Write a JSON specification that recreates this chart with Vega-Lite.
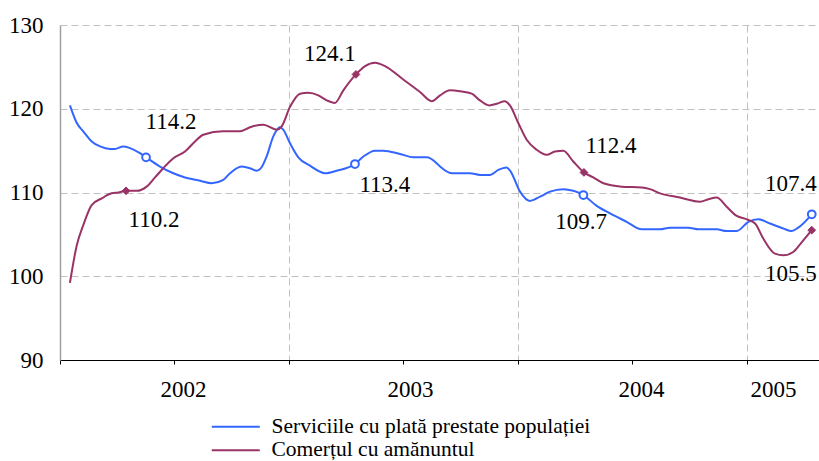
{
  "$schema": "https://vega.github.io/schema/vega-lite/v6.json",
  "width": 759,
  "height": 335,
  "autosize": "none",
  "padding": {"left": 60, "top": 25, "right": 0, "bottom": 101},
  "background": "white",
  "datasets": {
    "lines": [
      {"s": "Serviciile cu plată prestate populației", "m": 0.52, "v": 120.4, "mk": 0},
      {"s": "Serviciile cu plată prestate populației", "m": 0.88, "v": 118.3, "mk": 0},
      {"s": "Serviciile cu plată prestate populației", "m": 1.22, "v": 117.3, "mk": 0},
      {"s": "Serviciile cu plată prestate populației", "m": 1.66, "v": 116.1, "mk": 0},
      {"s": "Serviciile cu plată prestate populației", "m": 2.10, "v": 115.5, "mk": 0},
      {"s": "Serviciile cu plată prestate populației", "m": 2.62, "v": 115.2, "mk": 0},
      {"s": "Serviciile cu plată prestate populației", "m": 2.88, "v": 115.2, "mk": 0},
      {"s": "Serviciile cu plată prestate populației", "m": 3.32, "v": 115.5, "mk": 0},
      {"s": "Serviciile cu plată prestate populației", "m": 3.67, "v": 115.3, "mk": 0},
      {"s": "Serviciile cu plată prestate populației", "m": 4.19, "v": 114.7, "mk": 0},
      {"s": "Serviciile cu plată prestate populației", "m": 4.51, "v": 114.2, "mk": 1},
      {"s": "Serviciile cu plată prestate populației", "m": 5.24, "v": 113.1, "mk": 0},
      {"s": "Serviciile cu plată prestate populației", "m": 5.94, "v": 112.3, "mk": 0},
      {"s": "Serviciile cu plată prestate populației", "m": 6.55, "v": 111.8, "mk": 0},
      {"s": "Serviciile cu plată prestate populației", "m": 7.34, "v": 111.4, "mk": 0},
      {"s": "Serviciile cu plată prestate populației", "m": 7.95, "v": 111.1, "mk": 0},
      {"s": "Serviciile cu plată prestate populației", "m": 8.56, "v": 111.5, "mk": 0},
      {"s": "Serviciile cu plată prestate populației", "m": 8.91, "v": 112.3, "mk": 0},
      {"s": "Serviciile cu plată prestate populației", "m": 9.52, "v": 113.1, "mk": 0},
      {"s": "Serviciile cu plată prestate populației", "m": 9.96, "v": 112.9, "mk": 0},
      {"s": "Serviciile cu plată prestate populației", "m": 10.31, "v": 112.6, "mk": 0},
      {"s": "Serviciile cu plată prestate populației", "m": 10.59, "v": 113.1, "mk": 0},
      {"s": "Serviciile cu plată prestate populației", "m": 10.83, "v": 114.3, "mk": 0},
      {"s": "Serviciile cu plată prestate populației", "m": 11.18, "v": 116.7, "mk": 0},
      {"s": "Serviciile cu plată prestate populației", "m": 11.53, "v": 117.8, "mk": 0},
      {"s": "Serviciile cu plată prestate populației", "m": 11.70, "v": 117.5, "mk": 0},
      {"s": "Serviciile cu plată prestate populației", "m": 12.05, "v": 115.9, "mk": 0},
      {"s": "Serviciile cu plată prestate populației", "m": 12.49, "v": 114.2, "mk": 0},
      {"s": "Serviciile cu plată prestate populației", "m": 13.10, "v": 113.2, "mk": 0},
      {"s": "Serviciile cu plată prestate populației", "m": 13.89, "v": 112.3, "mk": 0},
      {"s": "Serviciile cu plată prestate populației", "m": 14.50, "v": 112.6, "mk": 0},
      {"s": "Serviciile cu plată prestate populației", "m": 15.46, "v": 113.4, "mk": 1},
      {"s": "Serviciile cu plată prestate populației", "m": 15.90, "v": 114.3, "mk": 0},
      {"s": "Serviciile cu plată prestate populației", "m": 16.51, "v": 115.0, "mk": 0},
      {"s": "Serviciile cu plată prestate populației", "m": 16.94, "v": 115.0, "mk": 0},
      {"s": "Serviciile cu plată prestate populației", "m": 17.82, "v": 114.6, "mk": 0},
      {"s": "Serviciile cu plată prestate populației", "m": 18.52, "v": 114.2, "mk": 0},
      {"s": "Serviciile cu plată prestate populației", "m": 19.22, "v": 114.2, "mk": 0},
      {"s": "Serviciile cu plată prestate populației", "m": 19.74, "v": 113.5, "mk": 0},
      {"s": "Serviciile cu plată prestate populației", "m": 19.92, "v": 113.1, "mk": 0},
      {"s": "Serviciile cu plată prestate populației", "m": 20.53, "v": 112.3, "mk": 0},
      {"s": "Serviciile cu plată prestate populației", "m": 21.49, "v": 112.3, "mk": 0},
      {"s": "Serviciile cu plată prestate populației", "m": 22.01, "v": 112.1, "mk": 0},
      {"s": "Serviciile cu plată prestate populației", "m": 22.54, "v": 112.1, "mk": 0},
      {"s": "Serviciile cu plată prestate populației", "m": 22.97, "v": 112.7, "mk": 0},
      {"s": "Serviciile cu plată prestate populației", "m": 23.41, "v": 113.0, "mk": 0},
      {"s": "Serviciile cu plată prestate populației", "m": 23.62, "v": 112.5, "mk": 0},
      {"s": "Serviciile cu plată prestate populației", "m": 24.11, "v": 110.1, "mk": 0},
      {"s": "Serviciile cu plată prestate populației", "m": 24.63, "v": 109.0, "mk": 0},
      {"s": "Serviciile cu plată prestate populației", "m": 25.16, "v": 109.5, "mk": 0},
      {"s": "Serviciile cu plată prestate populației", "m": 25.68, "v": 110.1, "mk": 0},
      {"s": "Serviciile cu plată prestate populației", "m": 26.38, "v": 110.4, "mk": 0},
      {"s": "Serviciile cu plată prestate populației", "m": 26.90, "v": 110.2, "mk": 0},
      {"s": "Serviciile cu plată prestate populației", "m": 27.43, "v": 109.7, "mk": 1},
      {"s": "Serviciile cu plată prestate populației", "m": 28.13, "v": 108.4, "mk": 0},
      {"s": "Serviciile cu plată prestate populației", "m": 28.83, "v": 107.5, "mk": 0},
      {"s": "Serviciile cu plată prestate populației", "m": 29.70, "v": 106.5, "mk": 0},
      {"s": "Serviciile cu plată prestate populației", "m": 30.49, "v": 105.6, "mk": 0},
      {"s": "Serviciile cu plată prestate populației", "m": 31.45, "v": 105.6, "mk": 0},
      {"s": "Serviciile cu plată prestate populației", "m": 31.97, "v": 105.8, "mk": 0},
      {"s": "Serviciile cu plată prestate populației", "m": 32.93, "v": 105.8, "mk": 0},
      {"s": "Serviciile cu plată prestate populației", "m": 33.46, "v": 105.6, "mk": 0},
      {"s": "Serviciile cu plată prestate populației", "m": 34.42, "v": 105.6, "mk": 0},
      {"s": "Serviciile cu plată prestate populației", "m": 34.94, "v": 105.4, "mk": 0},
      {"s": "Serviciile cu plată prestate populației", "m": 35.47, "v": 105.4, "mk": 0},
      {"s": "Serviciile cu plată prestate populației", "m": 36.08, "v": 106.5, "mk": 0},
      {"s": "Serviciile cu plată prestate populației", "m": 36.60, "v": 106.8, "mk": 0},
      {"s": "Serviciile cu plată prestate populației", "m": 37.21, "v": 106.3, "mk": 0},
      {"s": "Serviciile cu plată prestate populației", "m": 37.91, "v": 105.7, "mk": 0},
      {"s": "Serviciile cu plată prestate populației", "m": 38.35, "v": 105.4, "mk": 0},
      {"s": "Serviciile cu plată prestate populației", "m": 38.69, "v": 105.8, "mk": 0},
      {"s": "Serviciile cu plată prestate populației", "m": 39.40, "v": 107.4, "mk": 1},
      {"s": "Comerțul cu amănuntul", "m": 0.52, "v": 99.2, "mk": 0},
      {"s": "Comerțul cu amănuntul", "m": 0.88, "v": 103.7, "mk": 0},
      {"s": "Comerțul cu amănuntul", "m": 1.22, "v": 106.1, "mk": 0},
      {"s": "Comerțul cu amănuntul", "m": 1.66, "v": 108.5, "mk": 0},
      {"s": "Comerțul cu amănuntul", "m": 2.19, "v": 109.3, "mk": 0},
      {"s": "Comerțul cu amănuntul", "m": 2.71, "v": 109.9, "mk": 0},
      {"s": "Comerțul cu amănuntul", "m": 3.06, "v": 110.0, "mk": 0},
      {"s": "Comerțul cu amănuntul", "m": 3.46, "v": 110.2, "mk": 1},
      {"s": "Comerțul cu amănuntul", "m": 4.02, "v": 110.2, "mk": 0},
      {"s": "Comerțul cu amănuntul", "m": 4.54, "v": 110.7, "mk": 0},
      {"s": "Comerțul cu amănuntul", "m": 4.98, "v": 111.8, "mk": 0},
      {"s": "Comerțul cu amănuntul", "m": 5.41, "v": 112.9, "mk": 0},
      {"s": "Comerțul cu amănuntul", "m": 5.94, "v": 114.1, "mk": 0},
      {"s": "Comerțul cu amănuntul", "m": 6.55, "v": 114.9, "mk": 0},
      {"s": "Comerțul cu amănuntul", "m": 7.08, "v": 116.1, "mk": 0},
      {"s": "Comerțul cu amănuntul", "m": 7.51, "v": 116.9, "mk": 0},
      {"s": "Comerțul cu amănuntul", "m": 8.56, "v": 117.3, "mk": 0},
      {"s": "Comerțul cu amănuntul", "m": 9.43, "v": 117.3, "mk": 0},
      {"s": "Comerțul cu amănuntul", "m": 9.96, "v": 117.8, "mk": 0},
      {"s": "Comerțul cu amănuntul", "m": 10.66, "v": 118.1, "mk": 0},
      {"s": "Comerțul cu amănuntul", "m": 11.36, "v": 117.5, "mk": 0},
      {"s": "Comerțul cu amănuntul", "m": 11.62, "v": 117.9, "mk": 0},
      {"s": "Comerțul cu amănuntul", "m": 12.05, "v": 120.2, "mk": 0},
      {"s": "Comerțul cu amănuntul", "m": 12.58, "v": 121.8, "mk": 0},
      {"s": "Comerțul cu amănuntul", "m": 13.01, "v": 121.9, "mk": 0},
      {"s": "Comerțul cu amănuntul", "m": 13.54, "v": 121.6, "mk": 0},
      {"s": "Comerțul cu amănuntul", "m": 13.98, "v": 121.0, "mk": 0},
      {"s": "Comerțul cu amănuntul", "m": 14.41, "v": 120.7, "mk": 0},
      {"s": "Comerțul cu amănuntul", "m": 14.85, "v": 122.2, "mk": 0},
      {"s": "Comerțul cu amănuntul", "m": 15.51, "v": 124.1, "mk": 1},
      {"s": "Comerțul cu amănuntul", "m": 15.99, "v": 125.1, "mk": 0},
      {"s": "Comerțul cu amănuntul", "m": 16.51, "v": 125.5, "mk": 0},
      {"s": "Comerțul cu amănuntul", "m": 17.03, "v": 125.1, "mk": 0},
      {"s": "Comerțul cu amănuntul", "m": 17.99, "v": 123.5, "mk": 0},
      {"s": "Comerțul cu amănuntul", "m": 18.87, "v": 122.0, "mk": 0},
      {"s": "Comerțul cu amănuntul", "m": 19.48, "v": 120.9, "mk": 0},
      {"s": "Comerțul cu amănuntul", "m": 19.92, "v": 121.6, "mk": 0},
      {"s": "Comerțul cu amănuntul", "m": 20.44, "v": 122.2, "mk": 0},
      {"s": "Comerțul cu amănuntul", "m": 20.96, "v": 122.1, "mk": 0},
      {"s": "Comerțul cu amănuntul", "m": 21.58, "v": 121.8, "mk": 0},
      {"s": "Comerțul cu amănuntul", "m": 22.01, "v": 121.0, "mk": 0},
      {"s": "Comerțul cu amănuntul", "m": 22.50, "v": 120.4, "mk": 0},
      {"s": "Comerțul cu amănuntul", "m": 22.89, "v": 120.6, "mk": 0},
      {"s": "Comerțul cu amănuntul", "m": 23.32, "v": 120.9, "mk": 0},
      {"s": "Comerțul cu amănuntul", "m": 23.58, "v": 120.4, "mk": 0},
      {"s": "Comerțul cu amănuntul", "m": 24.02, "v": 118.3, "mk": 0},
      {"s": "Comerțul cu amănuntul", "m": 24.46, "v": 116.3, "mk": 0},
      {"s": "Comerțul cu amănuntul", "m": 24.98, "v": 115.1, "mk": 0},
      {"s": "Comerțul cu amănuntul", "m": 25.51, "v": 114.5, "mk": 0},
      {"s": "Comerțul cu amănuntul", "m": 25.94, "v": 114.9, "mk": 0},
      {"s": "Comerțul cu amănuntul", "m": 26.38, "v": 115.0, "mk": 0},
      {"s": "Comerțul cu amănuntul", "m": 26.90, "v": 113.7, "mk": 0},
      {"s": "Comerțul cu amănuntul", "m": 27.46, "v": 112.4, "mk": 1},
      {"s": "Comerțul cu amănuntul", "m": 27.95, "v": 111.8, "mk": 0},
      {"s": "Comerțul cu amănuntul", "m": 28.48, "v": 111.1, "mk": 0},
      {"s": "Comerțul cu amănuntul", "m": 29.44, "v": 110.7, "mk": 0},
      {"s": "Comerțul cu amănuntul", "m": 30.49, "v": 110.6, "mk": 0},
      {"s": "Comerțul cu amănuntul", "m": 30.92, "v": 110.4, "mk": 0},
      {"s": "Comerțul cu amănuntul", "m": 31.45, "v": 109.9, "mk": 0},
      {"s": "Comerțul cu amănuntul", "m": 32.49, "v": 109.4, "mk": 0},
      {"s": "Comerțul cu amănuntul", "m": 33.54, "v": 108.9, "mk": 0},
      {"s": "Comerțul cu amănuntul", "m": 33.98, "v": 109.2, "mk": 0},
      {"s": "Comerțul cu amănuntul", "m": 34.42, "v": 109.4, "mk": 0},
      {"s": "Comerțul cu amănuntul", "m": 34.94, "v": 108.3, "mk": 0},
      {"s": "Comerțul cu amănuntul", "m": 35.47, "v": 107.2, "mk": 0},
      {"s": "Comerțul cu amănuntul", "m": 35.99, "v": 106.8, "mk": 0},
      {"s": "Comerțul cu amănuntul", "m": 36.43, "v": 106.3, "mk": 0},
      {"s": "Comerțul cu amănuntul", "m": 36.86, "v": 104.5, "mk": 0},
      {"s": "Comerțul cu amănuntul", "m": 37.47, "v": 102.7, "mk": 0},
      {"s": "Comerțul cu amănuntul", "m": 37.91, "v": 102.5, "mk": 0},
      {"s": "Comerțul cu amănuntul", "m": 38.43, "v": 102.9, "mk": 0},
      {"s": "Comerțul cu amănuntul", "m": 38.82, "v": 103.9, "mk": 0},
      {"s": "Comerțul cu amănuntul", "m": 39.40, "v": 105.5, "mk": 1}
    ],
    "labels": [
      {"t": "114.2", "m": 5.82, "v": 118.42},
      {"t": "110.2", "m": 4.93, "v": 106.72},
      {"t": "124.1", "m": 14.15, "v": 126.54},
      {"t": "113.4", "m": 17.03, "v": 110.9},
      {"t": "112.4", "m": 28.88, "v": 115.55},
      {"t": "109.7", "m": 27.31, "v": 106.48},
      {"t": "107.4", "m": 38.31, "v": 111.01},
      {"t": "105.5", "m": 38.31, "v": 100.27}
    ]
  },
  "encoding": {
    "x": {
      "field": "m",
      "type": "quantitative",
      "scale": {"domain": [0, 39.78], "nice": false, "zero": false},
      "axis": {
        "title": null,
        "values": [0, 6, 6.45, 12, 18, 18.35, 24, 30, 30.45, 36, 37.37],
        "labelExpr": "datum.value == 6.45 ? '2002' : datum.value == 18.35 ? '2003' : datum.value == 30.45 ? '2004' : datum.value == 37.37 ? '2005' : ''",
        "labelFont": "Liberation Serif",
        "labelFontSize": 23,
        "labelColor": "#000000",
        "labelPadding": 14,
        "labelOverlap": false,
        "labelFlush": false,
        "labelBound": false,
        "domainColor": "#000000",
        "domainWidth": 1,
        "tickColor": "#000000",
        "tickSize": 4,
        "tickOpacity": {"condition": {"test": "datum.value % 6 == 0", "value": 1}, "value": 0},
        "grid": true,
        "gridColor": "#c0c0c0",
        "gridDash": [7, 4],
        "gridOpacity": {"condition": {"test": "datum.value % 12 == 0 && datum.value > 0", "value": 1}, "value": 0}
      }
    },
    "y": {
      "field": "v",
      "type": "quantitative",
      "scale": {"domain": [90, 130], "nice": false, "zero": false},
      "axis": {
        "title": null,
        "values": [90, 100, 110, 120, 130],
        "labelFont": "Liberation Serif",
        "labelFontSize": 23,
        "labelColor": "#000000",
        "labelPadding": 17,
        "ticks": false,
        "domainColor": "#a0a0a0",
        "domainWidth": 1.5,
        "grid": true,
        "gridColor": "#c0c0c0",
        "gridDash": [7, 4],
        "gridOpacity": {"condition": {"test": "datum.value > 90", "value": 1}, "value": 0}
      }
    }
  },
  "layer": [
    {
      "data": {"name": "lines"},
      "mark": {"type": "line", "strokeWidth": 2, "interpolate": "monotone"},
      "encoding": {
        "color": {
          "field": "s",
          "type": "nominal",
          "sort": null,
          "scale": {
            "domain": ["Serviciile cu plată prestate populației", "Comerțul cu amănuntul"],
            "range": ["#3366FF", "#993366"]
          },
          "legend": {
            "title": null,
            "orient": "none",
            "legendX": 189,
            "legendY": 391,
            "direction": "vertical",
            "padding": 0,
            "symbolType": "M-9.6,0H0",
            "symbolSize": 100,
            "symbolStrokeWidth": 2,
            "labelOffset": 1,
            "labelFont": "Liberation Serif",
            "labelFontSize": 21.5,
            "labelColor": "#000000",
            "rowPadding": 0.5,
            "labelLimit": 500
          }
        }
      }
    },
    {
      "data": {"name": "lines"},
      "transform": [{"filter": "datum.mk == 1 && datum.s == 'Serviciile cu plată prestate populației'"}],
      "mark": {"type": "point", "shape": "circle", "filled": true, "fill": "#ffffff", "stroke": "#3366FF", "strokeWidth": 2, "size": 60, "opacity": 1}
    },
    {
      "data": {"name": "lines"},
      "transform": [{"filter": "datum.mk == 1 && datum.s == 'Comerțul cu amănuntul'"}],
      "mark": {"type": "point", "shape": "diamond", "filled": true, "fill": "#993366", "stroke": "#993366", "strokeWidth": 1, "size": 60, "opacity": 1}
    },
    {
      "data": {"name": "labels"},
      "mark": {"type": "text", "font": "Liberation Serif", "fontSize": 23, "color": "#000000", "align": "center", "baseline": "middle"},
      "encoding": {"text": {"field": "t", "type": "nominal"}}
    }
  ],
  "config": {"view": {"stroke": null}}
}
